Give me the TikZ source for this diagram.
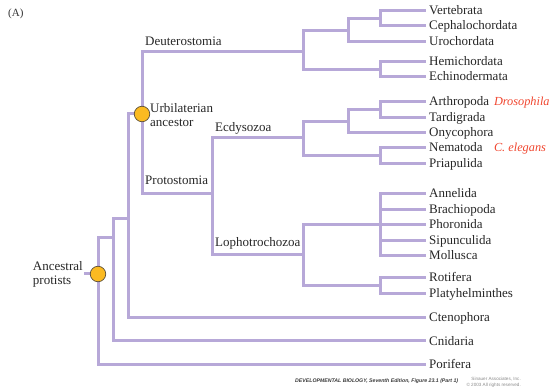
\documentclass[tikz,border=0pt]{standalone}
\usepackage{fontspec}
\setmainfont{Liberation Serif}
\newfontfamily\creditfont{Liberation Sans}
\usetikzlibrary{positioning}
\definecolor{Lilac}{HTML}{B7A8D8}
\definecolor{Amber}{HTML}{FBBA21}
\definecolor{Rim}{HTML}{5E513A}
\definecolor{Species}{HTML}{F0452E}
\definecolor{Credit}{HTML}{3A3A3A}
\definecolor{Faint}{HTML}{8A8A8A}

\begin{document}
\begin{tikzpicture}[x=1pt,y=-1pt,
  taxon/.style={anchor=west,inner xsep=3pt,inner ysep=0pt,text height=10pt,text depth=2pt,text=black!85,font=\fontsize{13}{15}\selectfont},
  clade/.style={anchor=base west,inner sep=0pt,text=black!85,font=\fontsize{13}{15}\selectfont},
  species/.style={anchor=west,inner sep=0pt,text height=10pt,text depth=2pt,text=Species,font=\fontsize{12.3}{15}\selectfont\itshape},
  ancestor/.style={circle,draw=Rim,fill=Amber,line width=0.7pt,minimum size=15.5pt,inner sep=0pt},
  branch/.style={draw=Lilac,line width=3pt},
  credit/.style={inner sep=0pt,text=Credit,font=\creditfont\fontsize{5.2}{6.5}\selectfont\bfseries\itshape},
  publisher/.style={inner sep=0pt,text=Faint,font=\creditfont\fontsize{4.6}{6.5}\selectfont}
]
\useasboundingbox (0,0) rectangle (552,390);
\node[anchor=base west,inner sep=0pt,text=black!80,font=\fontsize{11}{13}\selectfont] (panel) at (8,17) {(A)};
\node[taxon] (vert) at (426,11) {Vertebrata};
\node[taxon] (ceph) at (426,26) {Cephalochordata};
\node[taxon] (uro) at (426,42) {Urochordata};
\node[taxon] (hemi) at (426,62) {Hemichordata};
\node[taxon] (echi) at (426,77) {Echinodermata};
\node[taxon] (arth) at (426,102) {Arthropoda};
\node[taxon] (tard) at (426,118) {Tardigrada};
\node[taxon] (onyc) at (426,133) {Onycophora};
\node[taxon] (nema) at (426,148) {Nematoda};
\node[taxon] (pria) at (426,164) {Priapulida};
\node[taxon] (anne) at (426,194) {Annelida};
\node[taxon] (brac) at (426,210) {Brachiopoda};
\node[taxon] (phor) at (426,225) {Phoronida};
\node[taxon] (sipu) at (426,241) {Sipunculida};
\node[taxon] (moll) at (426,256) {Mollusca};
\node[taxon] (roti) at (426,278) {Rotifera};
\node[taxon] (plat) at (426,294) {Platyhelminthes};
\node[taxon] (cten) at (426,318) {Ctenophora};
\node[taxon] (cnid) at (426,341) {Cnidaria};
\node[taxon] (pori) at (426,364) {Porifera};
\node[species,right=1.5pt of arth] (dros) {Drosophila};
\node[species] (eleg) at (dros.west |- nema) {C. elegans};
\coordinate (vc) at (380,19);
\coordinate (chor) at (348,31);
\coordinate (he) at (380,70);
\coordinate (deut) at (303,52);
\coordinate (urb) at (142,114);
\coordinate (artd) at (380,110);
\coordinate (pan) at (348,122);
\coordinate (np) at (380,156);
\coordinate (ecd) at (303,138);
\coordinate (lph) at (380,225);
\coordinate (rp) at (380,286);
\coordinate (loph) at (303,255);
\coordinate (prot) at (212,194);
\coordinate (bil) at (128,219);
\coordinate (eum) at (113,238);
\coordinate (root) at (98,274);
\draw[branch] (vc) |- (vert.west);
\draw[branch] (vc) |- (ceph.west);
\draw[branch] (chor) |- (vc);
\draw[branch] (chor) |- (uro.west);
\draw[branch] (he) |- (hemi.west);
\draw[branch] (he) |- (echi.west);
\draw[branch] (deut) |- (chor);
\draw[branch] (deut) |- (he);
\draw[branch] (urb) |- (deut);
\draw[branch] (urb) |- (prot);
\draw[branch] (artd) |- (arth.west);
\draw[branch] (artd) |- (tard.west);
\draw[branch] (pan) |- (artd);
\draw[branch] (pan) |- (onyc.west);
\draw[branch] (np) |- (nema.west);
\draw[branch] (np) |- (pria.west);
\draw[branch] (ecd) |- (pan);
\draw[branch] (ecd) |- (np);
\draw[branch] (lph) |- (anne.west);
\draw[branch] (lph) |- (brac.west);
\draw[branch] (lph) |- (phor.west);
\draw[branch] (lph) |- (sipu.west);
\draw[branch] (lph) |- (moll.west);
\draw[branch] (rp) |- (roti.west);
\draw[branch] (rp) |- (plat.west);
\draw[branch] (loph) |- (lph);
\draw[branch] (loph) |- (rp);
\draw[branch] (prot) |- (ecd);
\draw[branch] (prot) |- (loph);
\draw[branch] (bil) |- (urb);
\draw[branch] (bil) |- (cten.west);
\draw[branch] (eum) |- (bil);
\draw[branch] (eum) |- (cnid.west);
\draw[branch] (root) |- (eum);
\draw[branch] (root) |- (pori.west);
\node[clade] (deutlabel) at (145,46) {Deuterostomia};
\node[clade] (protlabel) at (145,185) {Protostomia};
\node[clade] (ecdlabel) at (215,132) {Ecdysozoa};
\node[clade] (lophlabel) at (215,247) {Lophotrochozoa};
\node[anchor=west,inner sep=0pt,align=left,text=black!85,font=\fontsize{13}{14}\selectfont] (urblabel) at (150,115) {Urbilaterian\\ancestor};
\node[anchor=east,inner sep=1pt,align=left,text=black!85,font=\fontsize{13}{14}\selectfont] (anc) at (84,274) {Ancestral\\protists};
\draw[branch] (root) -- (anc.east |- root);
\node[ancestor] (urbdot) at (urb) {};
\node[ancestor] (rootdot) at (root) {};
\node[credit,anchor=base west] (fig) at (295,382) {DEVELOPMENTAL BIOLOGY, Seventh Edition, Figure 23.1 (Part 1)};
\node[publisher,align=right,anchor=north east] (pub) at (521,376.5) {Sinauer Associates, Inc.\\© 2003 All rights reserved.};
\end{tikzpicture}
\end{document}
